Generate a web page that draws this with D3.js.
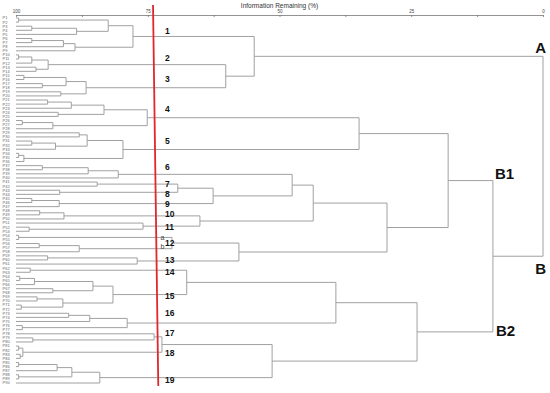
<!DOCTYPE html>
<html>
<head>
<meta charset="utf-8">
<script src="https://cdn.jsdelivr.net/npm/d3@7"></script>
<style>
  body { margin: 0; background: #fff; }
  svg { display: block; font-family: "Liberation Sans", Arial, sans-serif; }
</style>
</head>
<body>
<svg id="chart" width="550" height="393"></svg>
<script>
// axis
const tickValues = [100, 87.5, 75, 62.5, 50, 37.5, 25, 12.5, 0];
const majorTicks = [100, 75, 50, 25, 0];

// clusters: node = [information remaining, child, child], leaf = sample label
const clusterIds = ["1","2","3","4","5","6","7","8","9","10","11","12","12a","12b","13","14","15","16","17","18","19"];
const clusterTrees = [
  [77.8, [82.5, [99.5,"P1","P2"], [88.5, [97,"P3","P4"], "P5"]], [88.8, [91, [97,"P6","P7"], "P8"], "P9"]],
  [93.9, [97, [99.5,"P10","P11"], "P12"], [96.2,"P13","P14"]],
  [86.7, [90.5, [98.5,"P15","P16"], [95,"P17","P18"]], [91.5,"P19","P20"]],
  [75.1, [83.3, [89.5, [94,"P21","P22"], "P23"], [92,"P24","P25"]], [93, [98.8,"P26","P27"], "P28"]],
  [79.7, [86.5, [88,"P29","P30"], [92.5, [97,"P31","P32"], "P33"]], [98.5, [99.5,"P34","P35"], "P36"]],
  [80.6, [86.3, [95,"P37","P38"], "P39"], "P40"],
  [84.6, "P41", "P42"],
  [91.7, "P43", "P44"],
  [91.8, [97,"P45","P46"], "P47"],
  [90.9, [95.5,"P48","P49"], "P50"],
  [75.9, "P51", [97.5,"P52","P53"]],
  [70.4, "12a", "12b"],
  [99.5, "P54", "P55"],
  [88, [95.6,"P56","P57"], "P58"],
  [77, [94,"P59","P60"], "P61"],
  [97.3, "P62", "P63"],
  [81.6, [85.4, [96.5, [99.3,"P64","P65"], "P66"], [93,"P67","P68"]], [91.1, [96,"P69","P70"], [99,"P71","P72"]]],
  [78.9, [86, [90,"P73","P74"], "P75"], [98.8,"P76","P77"]],
  [73.8, "P78", [96.8,"P79","P80"]],
  [98.7, [99.5,"P81","P82"], [99.2,"P83","P84"]],
  [84.1, [89.4, [92.2, [99.5,"P85","P86"], "P87"], [99.5,"P88","P89"]], "P90"]
];

// how the clusters join into groups
const groupTree = [0,
  [54.8, "1", [60.2, "2", "3"]],
  [9.5,
    [18.0, [34.9, "4", "5"],
      [29.6, [43.6, [47.6, "6", [62.6, [69.3, "7", "8"], "9"]], [65.1, "10", "11"]], [57.7, "12", "13"]]],
    [23.9, [39.3, [67.6, "14", "15"], "16"], [51.4, [72.3, "17", "18"], "19"]]]];
const groupNames = ["A", "B", "B1", "B2"];
const groupHeights = [54.8, 9.5, 18.0, 23.9];

// cut line (top, bottom)
const cutLevels = [74, 73];

const svg = d3.select("#chart");
const x = d3.scaleLinear().domain([100, 0]).range([16, 543]);

function build(t) {
  if (typeof t === "string") {
    const k = clusterIds.indexOf(t);
    if (k >= 0) {
      const n = build(clusterTrees[k]);
      n.cluster = t;
      return n;
    }
    return { name: t, h: 100 };
  }
  return { h: t[0], children: t.slice(1).map(build) };
}

const root = d3.hierarchy(build(groupTree));
const leaves = root.leaves();
const y = d3.scaleLinear().domain([0, leaves.length - 1]).range([18, 383]);
leaves.forEach((d, i) => d.y = y(i));
root.eachAfter(d => {
  if (d.children) d.y = (d.children[0].y + d.children[d.children.length - 1].y) / 2;
});

// axis
const axis = d3.axisTop(x)
  .tickValues(tickValues)
  .tickFormat(d => majorTicks.includes(d) ? d : "")
  .tickSizeInner(-2)
  .tickSizeOuter(0)
  .tickPadding(2);
const ax = svg.append("g").attr("transform", "translate(0,15)").call(axis);
ax.select(".domain").attr("stroke", "#777").attr("stroke-width", 0.8);
ax.selectAll(".tick line").attr("stroke", "#777").attr("stroke-width", 0.8);
ax.selectAll(".tick text").attr("font-size", 4.5).attr("fill", "#444")
  .attr("font-family", "Liberation Sans, Arial, sans-serif");

svg.append("text")
  .attr("x", x(50)).attr("y", 7.5)
  .attr("text-anchor", "middle")
  .attr("font-size", 6.5).attr("fill", "#333")
  .text("Information Remaining (%)");

// dendrogram links
const links = [];
root.each(d => {
  if (!d.children) return;
  const xn = x(d.data.h);
  links.push(`M${xn},${d.children[0].y}V${d.children[d.children.length - 1].y}`);
  d.children.forEach(c => links.push(`M${x(c.data.h)},${c.y}H${xn}`));
});
svg.append("path")
  .attr("d", links.join(""))
  .attr("fill", "none")
  .attr("stroke", "#a0a0a0")
  .attr("stroke-width", 1);

// leaf labels
svg.append("g").selectAll("text")
  .data(leaves)
  .join("text")
  .attr("x", 2.5)
  .attr("y", d => d.y)
  .attr("dy", "0.35em")
  .attr("font-size", 4)
  .attr("fill", "#666")
  .text(d => d.data.name);

// cut line
svg.append("line")
  .attr("x1", x(cutLevels[0])).attr("y1", 5)
  .attr("x2", x(cutLevels[1])).attr("y2", 386)
  .attr("stroke", "#e3262b")
  .attr("stroke-width", 1.8);

// cluster labels
const labelDy = [-5, -7, -9, -9, -8, -7, 0, 2, 0, -2, 1, 0, 0, -2, -1, 2, 1, -10, -4, 1, 2];
const clusterNodes = root.descendants().filter(d => d.data.cluster);
clusterNodes.forEach(d => {
  const k = clusterIds.indexOf(d.data.cluster);
  const sub = d.data.cluster.length > 2;
  svg.append("text")
    .attr("x", sub ? 160.5 : 165)
    .attr("y", d.y + labelDy[k])
    .attr("dy", "0.35em")
    .attr("font-size", sub ? 7 : 8.5)
    .attr("font-weight", sub ? "normal" : "bold")
    .attr("fill", sub ? "#444" : "#111")
    .text(sub ? d.data.cluster.slice(2) : d.data.cluster);
});

// group labels
const groupDx = [3, 3, 2, 3];
const groupDy = [-3, 18, -2, 4];
const groupAnchor = ["end", "end", "start", "start"];
groupNames.forEach((g, i) => {
  const node = root.descendants().find(d => d.children && d.data.h === groupHeights[i]);
  const xBase = groupAnchor[i] === "end" ? x(0) : x(node.parent ? node.parent.data.h : 0);
  svg.append("text")
    .attr("x", xBase + groupDx[i])
    .attr("y", node.y + groupDy[i])
    .attr("text-anchor", groupAnchor[i])
    .attr("font-size", 15)
    .attr("font-weight", "bold")
    .attr("fill", "#111")
    .text(g);
});
</script>
</body>
</html>
